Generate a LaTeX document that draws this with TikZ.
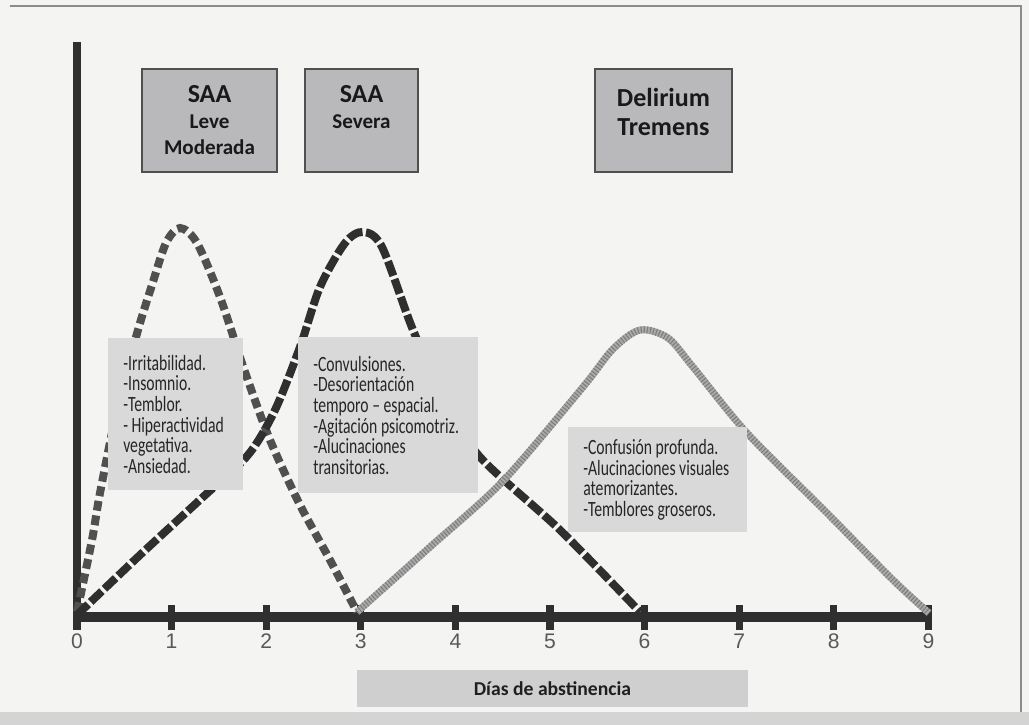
\documentclass[tikz,border=0pt]{standalone}
\usepackage{fontspec}
\setmainfont{Carlito}
\newfontfamily\digitfont{Liberation Sans}
\newfontfamily\notefont[FakeStretch=0.72]{Carlito}
\usepackage{xcolor}
\usetikzlibrary{positioning}

\definecolor{paper}{HTML}{F4F4F3}
\definecolor{titlefill}{HTML}{B9B9BB}
\definecolor{notefill}{HTML}{D9D9D9}
\definecolor{inkdark}{HTML}{2F2F2F}
\definecolor{inkmid}{HTML}{505050}
\definecolor{rope}{HTML}{ABABAB}
\definecolor{ropedark}{HTML}{7E7E7E}

\hyphenpenalty=10000
\exhyphenpenalty=10000

\begin{document}
\begin{tikzpicture}[
  x=0.25mm, y=-0.25mm,
  title/.style={rectangle, draw=inkmid, line width=1.4pt, fill=titlefill, align=center,
    text=black!90, font=\bfseries\fontsize{15}{18.5}\selectfont, minimum height=25.75mm},
  symptoms/.style={rectangle, fill=notefill, anchor=north west, align=flush left, inner xsep=3.75mm,
    text=black!85, font=\notefont\fontsize{15.5}{14.7}\selectfont},
  axis/.style={draw=inkdark, line width=7pt},
  tick/.style={draw=inkdark, line width=5pt},
  daynum/.style={text=black!65, font=\digitfont\fontsize{15}{18}\selectfont},
  leve/.style={draw=inkmid, line width=5.7pt, dash pattern=on 7pt off 3.5pt},
  severa/.style={draw=inkdark, line width=5.7pt, dash pattern=on 11pt off 2.5pt},
  delirium/.style={draw=rope, line width=5pt},
  ropetwist/.style={draw=ropedark, line width=5pt, dash pattern=on 0.8pt off 1.4pt}
]

% page
\fill[paper] (0,0) rectangle (1029,725);
\fill[black!17] (0,712) rectangle (1029,725);
\draw[black!45, line width=1pt] (10,6) -- (1021,6) -- (1021,712);

% axes
\coordinate (origin) at (77,617);
\coordinate (top) at (77,42);
\coordinate (end) at (929,617);
\draw[axis, line width=5pt] (top) -- (origin);
\draw[axis] (origin) -- (end);
\foreach \d in {0,...,9} {
  \draw[tick] (77+\d*94.6,605) -- (77+\d*94.6,630);
  \node[daynum] (d\d) at (77+\d*94.6,641) {\d};
}

% curves
\draw[leve] plot[smooth] coordinates {(77,612) (92,540) (100,493) (118,405) (138,330)
  (152,285) (166,243) (180,228) (197,243) (220,297) (245,372) (270,440) (300,505)
  (330,560) (357,612)};
\draw[severa] plot[smooth] coordinates {(77,615) (140,555) (203,497) (248,455) (275,410)
  (300,347) (320,287) (345,243) (363,232) (382,247) (413,330) (445,400) (480,457)
  (560,530) (640,612)};
\draw[delirium] plot[smooth] coordinates {(357,612) (430,547) (503,481) (583,387)
  (613,349) (640,330) (668,338) (693,367) (747,433) (827,513) (893,580) (929,613)};
\draw[ropetwist] plot[smooth] coordinates {(357,612) (430,547) (503,481) (583,387)
  (613,349) (640,330) (668,338) (693,367) (747,433) (827,513) (893,580) (929,613)};

% stage titles
\node[title, minimum width=33.75mm] (saa1) at (209.5,120.5)
  {{\fontsize{18.5}{22}\selectfont SAA}\\Leve\\Moderada};
\node[title, minimum width=28.25mm] (saa2) at (361.5,120.5)
  {{\fontsize{18.5}{22}\selectfont SAA}\\Severa\\\phantom{Moderada}};
\node[title, minimum width=34.25mm, font=\bfseries\fontsize{18.5}{20.5}\selectfont] (dt) at (663.5,120.5)
  {Delirium\\Tremens\\[-8pt]\mbox{}};

% symptoms
\node[symptoms, text width=26.25mm, minimum height=38mm] (s1) at (108,338)
  {-Irritabilidad.\\-Insomnio.\\-Temblor.\\-~Hiperactividad\\vegetativa.\\-Ansiedad.};
\node[symptoms, text width=37.5mm, minimum height=39mm] (s2) at (298,337)
  {-Convulsiones.\\-Desorientación\\temporo – espacial.\\-Agitación psicomotriz.\\-Alucinaciones\\transitorias.};
\node[symptoms, text width=37.25mm, minimum height=26.25mm] (s3) at (568,427)
  {-Confusión profunda.\\-Alucinaciones visuales\\atemorizantes.\\-Temblores groseros.};

% x label
\node[rectangle, fill=black!19, minimum width=97.75mm, minimum height=9.25mm,
  font=\bfseries\fontsize{14}{16}\selectfont, text=black!88] (xlabel) at (552.5,688.5) {Días de abstinencia};

\end{tikzpicture}
\end{document}
